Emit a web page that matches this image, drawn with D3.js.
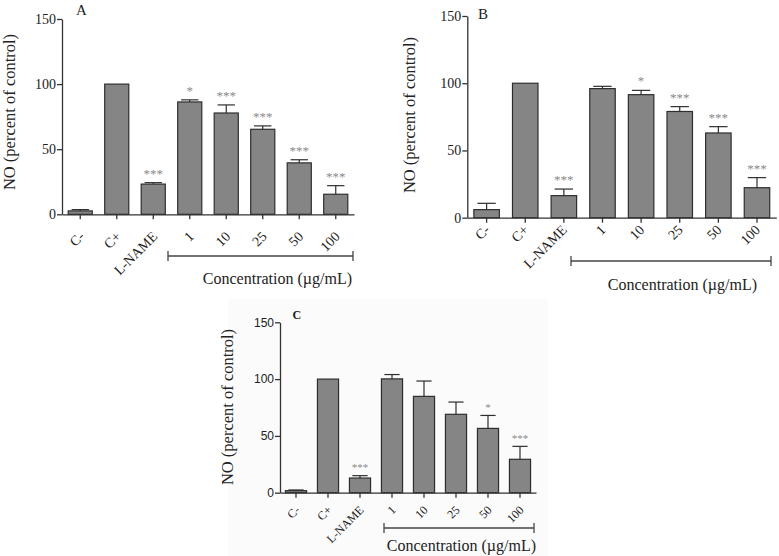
<!DOCTYPE html>
<html>
<head>
<meta charset="utf-8">
<script src="https://cdn.jsdelivr.net/npm/d3@7"></script>
<style>
  html, body { margin: 0; padding: 0; background: #fff; }
  svg { display: block; }
</style>
</head>
<body>
<svg id="chart" width="779" height="556"></svg>
<script>
// ---------- data ----------
const categories = ["C-", "C+", "L-NAME", "1", "10", "25", "50", "100"];
const yTicks = [0, 50, 100, 150];

const meanA = [2.6, 100, 23.2, 86.3, 77.8, 65.3, 39.5, 15.4];
const errA  = [1.0, 0, 1.1, 1.6, 6.2, 2.6, 2.4, 6.6];
const sigA  = ["", "", "***", "*", "***", "***", "***", "***"];

const meanB = [6.0, 100, 16.4, 96.0, 91.5, 79.0, 63.0, 22.3];
const errB  = [4.7, 0, 4.9, 1.7, 3.2, 3.6, 4.7, 7.5];
const sigB  = ["", "", "***", "", "*", "***", "***", "***"];

const meanC = [1.8, 100, 12.9, 100.2, 84.8, 69.0, 56.6, 29.4];
const errC  = [0.6, 0, 2.1, 3.8, 13.5, 10.8, 11.4, 11.4];
const sigC  = ["", "", "***", "", "", "", "*", "***"];

const panelLetters = ["A", "B", "C"];
const yLabel = "NO (percent of control)";
const xGroupLabel = "Concentration (\u00b5g/mL)";

// ---------- layout ----------
const serif = "Liberation Serif";
const sans = "Liberation Sans";
const panels = [
  { letter: panelLetters[0], mean: meanA, err: errA, sig: sigA,
    x0: 62, x1: 354, yTop: 19, yBase: 214.3,
    tickFont: serif, tickSize: 14,
    xFontSize: 14, xdx: 5, xdy: 23, starSize: 13,
    letterX: 76, letterY: 15, letterSize: 15, letterWeight: "normal",
    ylabX: 15, ylabY: 112,
    brX0: 168, brX1: 353, brY: 256, concX: 352, concY: 284 },
  { letter: panelLetters[1], mean: meanB, err: errB, sig: sigB,
    x0: 467.3, x1: 776.3, yTop: 16, yBase: 217.7,
    tickFont: serif, tickSize: 14,
    xFontSize: 14, xdx: 4, xdy: 13, starSize: 13,
    letterX: 478, letterY: 19, letterSize: 15, letterWeight: "normal",
    ylabX: 415, ylabY: 115,
    brX0: 571, brX1: 771, brY: 261, concX: 757, concY: 290 },
  { letter: panelLetters[2], mean: meanC, err: errC, sig: sigC,
    x0: 280, x1: 536, yTop: 322.3, yBase: 492.7,
    tickFont: sans, tickSize: 12,
    xFontSize: 12, xdx: 4.5, xdy: 18, starSize: 11,
    letterX: 292.5, letterY: 318.5, letterSize: 12, letterWeight: "bold",
    ylabX: 233, ylabY: 407,
    brX0: 384, brX1: 534, brY: 528, concX: 536, concY: 551 }
];

const svg = d3.select("#chart");
const axisColor = "#333";

// very faint backdrop of panel C (as in the source image)
svg.append("rect").attr("x", 228).attr("y", 299).attr("width", 320).attr("height", 257)
  .attr("fill", "#fbfbfb");

panels.forEach(p => {
  const g = svg.append("g");
  const x = d3.scaleBand().domain(categories).range([p.x0, p.x1])
    .paddingInner(0.34).paddingOuter(0.17);
  const y = d3.scaleLinear().domain([0, 150]).range([p.yBase, p.yTop]);

  const data = categories.map((c, i) => ({ c, m: p.mean[i], e: p.err[i], s: p.sig[i] }));

  // bars
  g.selectAll("rect.bar").data(data).join("rect")
    .attr("class", "bar")
    .attr("x", d => x(d.c))
    .attr("y", d => y(d.m))
    .attr("width", x.bandwidth())
    .attr("height", d => y(0) - y(d.m))
    .attr("fill", "#858585")
    .attr("stroke", "#2e2e2e")
    .attr("stroke-width", 1.2);

  // error bars (upper only)
  const capW = x.bandwidth() * 0.36;
  const eb = g.selectAll("g.err").data(data.filter(d => d.e > 0)).join("g").attr("class", "err");
  eb.append("line")
    .attr("x1", d => x(d.c) + x.bandwidth() / 2).attr("x2", d => x(d.c) + x.bandwidth() / 2)
    .attr("y1", d => y(d.m)).attr("y2", d => y(d.m + d.e))
    .attr("stroke", "#2e2e2e").attr("stroke-width", 1.2);
  eb.append("line")
    .attr("x1", d => x(d.c) + x.bandwidth() / 2 - capW).attr("x2", d => x(d.c) + x.bandwidth() / 2 + capW)
    .attr("y1", d => y(d.m + d.e)).attr("y2", d => y(d.m + d.e))
    .attr("stroke", "#2e2e2e").attr("stroke-width", 1.2);

  // significance stars
  g.selectAll("text.sig").data(data.filter(d => d.s)).join("text")
    .attr("class", "sig")
    .attr("x", d => x(d.c) + x.bandwidth() / 2)
    .attr("y", d => y(d.m + d.e) - (p.starSize > 12 ? 5 : 4.5))
    .attr("text-anchor", "middle")
    .style("font-family", serif)
    .attr("font-size", p.starSize)
    .attr("fill", "#8a8a8a")
    .text(d => d.s);

  // y axis
  const yAxis = g.append("g").attr("transform", `translate(${p.x0},0)`)
    .call(d3.axisLeft(y).tickValues(yTicks).tickSize(5).tickPadding(1).tickSizeOuter(0));
  yAxis.attr("font-family", null);
  yAxis.select(".domain").attr("stroke", axisColor).attr("stroke-width", 1.3);
  yAxis.selectAll(".tick line").attr("stroke", axisColor).attr("stroke-width", 1.3);
  yAxis.selectAll(".tick text").style("font-family", p.tickFont).attr("font-size", p.tickSize)
    .attr("fill", "#222");

  // x axis
  const xAxis = g.append("g").attr("transform", `translate(0,${p.yBase})`)
    .call(d3.axisBottom(x).tickSize(5).tickSizeOuter(0));
  xAxis.attr("font-family", null);
  xAxis.select(".domain").attr("stroke", axisColor).attr("stroke-width", 1.3);
  xAxis.selectAll(".tick line").attr("stroke", axisColor).attr("stroke-width", 1.3);
  xAxis.selectAll(".tick text")
    .style("font-family", serif).attr("font-size", p.xFontSize).attr("fill", "#222")
    .attr("text-anchor", "end")
    .attr("x", 0).attr("y", 0).attr("dy", 0)
    .attr("transform", `translate(${p.xdx},${p.xdy}) rotate(-45)`);

  // bracket under concentrations
  g.append("line").attr("x1", p.brX0).attr("x2", p.brX1).attr("y1", p.brY).attr("y2", p.brY)
    .attr("stroke", "#444").attr("stroke-width", 1.3);
  [p.brX0, p.brX1].forEach(bx => {
    g.append("line").attr("x1", bx).attr("x2", bx).attr("y1", p.brY - 5).attr("y2", p.brY + 5)
      .attr("stroke", "#444").attr("stroke-width", 1.3);
  });
  g.append("text").attr("x", p.concX).attr("y", p.concY).attr("text-anchor", "end")
    .style("font-family", serif).attr("font-size", 16).attr("fill", "#222")
    .text(xGroupLabel);

  // y label
  g.append("text")
    .attr("transform", `translate(${p.ylabX},${p.ylabY}) rotate(-90)`)
    .attr("text-anchor", "middle")
    .style("font-family", serif).attr("font-size", 16.5).attr("fill", "#222")
    .text(yLabel);

  // panel letter
  g.append("text").attr("x", p.letterX).attr("y", p.letterY)
    .style("font-family", serif).attr("font-size", p.letterSize)
    .attr("font-weight", p.letterWeight).attr("fill", "#222")
    .text(p.letter);
});
</script>
</body>
</html>
